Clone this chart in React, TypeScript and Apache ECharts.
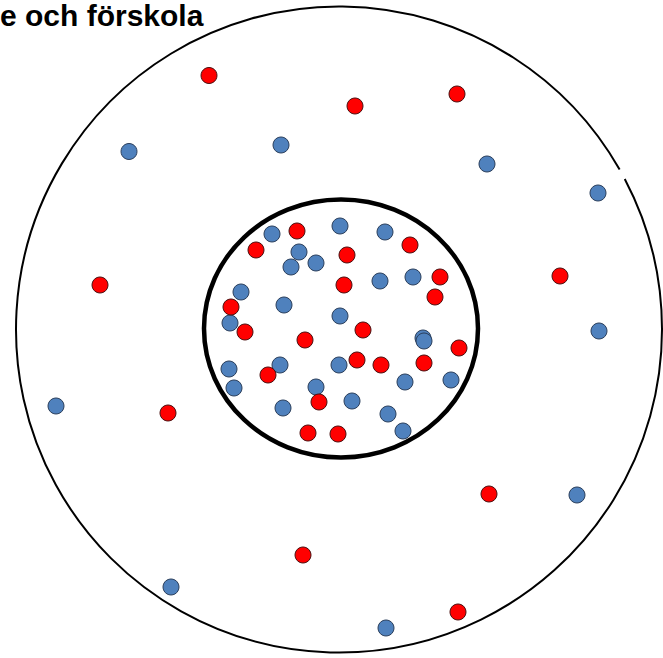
import React, { useEffect, useRef } from "react";
import * as echarts from "echarts";

// Coordinates in a plane 663 wide x 658 tall (y grows downward)
const titleText = "e och förskola";

// [cx, cy, r] of the outer ring, with a small break on the upper right
const outerRing = [[339, 329.5, 323]];
const outerGap = [-0.485, -0.518]; // radians, break between these angles
// [cx, cy, rx, ry] of the inner ring
const innerRing = [[341, 328.5, 137, 129]];

const bluePoints: number[][] = [
  // outer zone
  [129, 151.5], [281, 145], [487, 164], [598, 193], [599, 331], [56, 406],
  [577, 495], [171, 587], [386, 628],
  // inner zone
  [272, 234], [340, 226], [385, 232], [299, 252], [291, 267], [316, 263],
  [380, 281], [413, 277], [241, 292], [284, 305], [340, 316], [230, 323],
  [423, 338], [424, 341], [280, 365], [229, 369], [339, 365], [234, 388],
  [316, 387], [405, 382], [451, 380], [283, 408], [352, 401], [388, 414],
  [403, 431],
];

const redPoints: number[][] = [
  // outer zone
  [209, 75.5], [355, 106], [457, 94], [100, 285], [560, 276], [168, 413],
  [489, 494], [303, 555], [458, 612],
  // inner zone
  [297, 231], [256, 250], [347, 255], [410, 245], [440, 277], [435, 297],
  [344, 285], [231, 307], [245, 332], [305, 340], [363, 330], [459, 348],
  [357, 360], [381, 365], [424, 363], [268, 375], [319, 402], [308, 433],
  [338, 434],
];

export default function App() {
  const ref = useRef<HTMLDivElement>(null);
  useEffect(() => {
    if (!ref.current) return;
    const chart = echarts.init(ref.current, undefined, { renderer: "svg" });
    chart.setOption({
      animation: false,
      backgroundColor: "#ffffff",
      grid: { left: 0, right: 0, top: 0, bottom: 0 },
      xAxis: { type: "value", min: 0, max: 663, show: false },
      yAxis: { type: "value", min: 0, max: 658, inverse: true, show: false },
      graphic: [
        {
          type: "text",
          left: 0,
          top: 0,
          z: 100,
          style: {
            text: titleText,
            fill: "#000",
            font: "bold 30px 'Liberation Sans', Arial, sans-serif",
          },
        },
      ],
      series: [
        {
          type: "custom",
          silent: true,
          z: 1,
          data: outerRing,
          renderItem: (params: any, api: any) => {
            const c = api.coord([api.value(0), api.value(1)]);
            const r = api.size([api.value(2), 0])[0];
            return {
              type: "arc",
              shape: {
                cx: c[0],
                cy: c[1],
                r,
                startAngle: outerGap[0],
                endAngle: outerGap[1] + Math.PI * 2,
                clockwise: true,
              },
              style: { fill: "none", stroke: "#000", lineWidth: 2 },
            };
          },
        },
        {
          type: "custom",
          silent: true,
          z: 1,
          data: innerRing,
          renderItem: (params: any, api: any) => {
            const c = api.coord([api.value(0), api.value(1)]);
            const s = api.size([api.value(2), api.value(3)]);
            return {
              type: "ellipse",
              shape: { cx: c[0], cy: c[1], rx: s[0], ry: s[1] },
              style: { fill: "none", stroke: "#000", lineWidth: 4.5 },
            };
          },
        },
        {
          type: "scatter",
          z: 2,
          data: bluePoints,
          symbol: "circle",
          symbolSize: 16,
          itemStyle: {
            color: "#4F81BD",
            borderColor: "#2b3f5c",
            borderWidth: 1,
            opacity: 1,
          },
        },
        {
          type: "scatter",
          z: 3,
          data: redPoints,
          symbol: "circle",
          symbolSize: 16,
          itemStyle: {
            color: "#FF0000",
            borderColor: "#4a1010",
            borderWidth: 1,
            opacity: 1,
          },
        },
      ],
    });
    return () => chart.dispose();
  }, []);
  return (
    <div
      ref={ref}
      style={{ position: "fixed", left: 0, top: 0, width: 663, height: 658 }}
    />
  );
}
